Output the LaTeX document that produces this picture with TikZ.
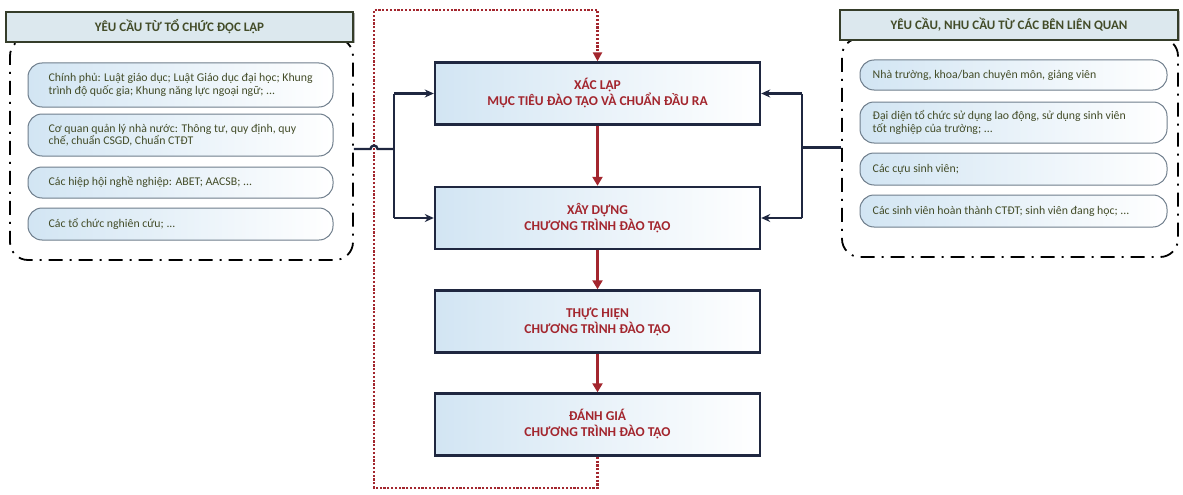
\documentclass[tikz,border=0pt]{standalone}
\usepackage{fontspec}
\setmainfont{Carlito}
\usetikzlibrary{arrows.meta,shadows}
\definecolor{navy}{HTML}{1F2740}
\definecolor{dred}{HTML}{A3262E}
\definecolor{olive}{HTML}{434C28}
\definecolor{ltblue}{HTML}{D2E5F3}
\definecolor{titlefill}{HTML}{DCE8EE}
\definecolor{itemedge}{HTML}{6F7E8C}
\definecolor{titleedge}{HTML}{353D2A}
\begin{document}
\begin{tikzpicture}[x=1pt,y=-1pt,
  mainbox/.style={draw=navy, line width=2.4pt, minimum width=325pt, minimum height=62pt,
    left color=ltblue, right color=white, align=center, inner sep=0pt,
    font=\fontsize{13.5}{16}\selectfont\bfseries, text=dred},
  titlebox/.style={draw=titleedge, line width=2.4pt, fill=titlefill, minimum height=30pt,
    inner sep=0pt, font=\fontsize{13}{15}\selectfont\bfseries, text=olive,
    drop shadow={shadow xshift=1.5pt, shadow yshift=-1.5pt, fill=black!60}},
  frame/.style={draw=black, line width=1.8pt, rounded corners=18pt,
    dash pattern=on 14pt off 7pt on 2pt off 7pt, inner sep=0pt},
  itembox/.style={draw=itemedge, line width=1pt, rounded corners=14pt,
    left color=ltblue, right color=white, inner sep=0pt},
  itemtext/.style={anchor=west, align=left, inner sep=0pt,
    font=\fontsize{11.8}{12.5}\selectfont, text=olive},
  conn/.style={draw=navy, line width=2.3pt},
  connarrow/.style={conn, -{Stealth[length=9pt,width=8pt]}},
  redarrow/.style={draw=dred, line width=2.5pt, -{Triangle[length=9pt,width=10pt]}},
  loopline/.style={draw=dred, line width=2.4pt, dash pattern=on 2.2pt off 1.6pt,
    -{Triangle[length=9pt,width=9pt]}}
]
\useasboundingbox (0,0) rectangle (1183,495);

% ---------- left group ----------
\node[frame, minimum width=343pt, minimum height=222pt] (lf) at (181.5,149) {};
\node[titlebox, minimum width=347pt] (ltitle) at (179.5,27) {YÊU CẦU TỪ TỔ CHỨC ĐỘC LẬP};
\node[itembox, minimum width=305pt, minimum height=44pt,
  label={[itemtext, xshift=21pt]west:Chính phủ: Luật giáo dục; Luật Giáo dục đại học; Khung\\trình độ quốc gia; Khung năng lực ngoại ngữ; ...}] (l1) at (180.5,85) {};
\node[itembox, minimum width=305pt, minimum height=42pt,
  label={[itemtext, xshift=21pt]west:Cơ quan quản lý nhà nước: Thông tư, quy định, quy\\chế, chuẩn CSGD, Chuẩn CTĐT}] (l2) at (180.5,135) {};
\node[itembox, minimum width=305pt, minimum height=31pt,
  label={[itemtext, xshift=21pt]west:Các hiệp hội nghề nghiệp: ABET; AACSB; ...}] (l3) at (180.5,182.5) {};
\node[itembox, minimum width=305pt, minimum height=32pt,
  label={[itemtext, xshift=21pt]west:Các tổ chức nghiên cứu; ...}] (l4) at (180.5,224) {};

% ---------- right group ----------
\node[frame, minimum width=336pt, minimum height=219pt] (rf) at (1010,147.5) {};
\node[titlebox, minimum width=338pt] (rtitle) at (1009,25) {YÊU CẦU, NHU CẦU TỪ CÁC BÊN LIÊN QUAN};
\node[itembox, minimum width=307pt, minimum height=30pt,
  label={[itemtext, xshift=13pt]west:Nhà trường, khoa/ban chuyên môn, giảng viên}] (r1) at (1013.5,75) {};
\node[itembox, minimum width=307pt, minimum height=41pt,
  label={[itemtext, xshift=13pt]west:Đại diện tổ chức sử dụng lao động, sử dụng sinh viên\\tốt nghiệp của trường; ...}] (r2) at (1013.5,122.5) {};
\node[itembox, minimum width=307pt, minimum height=32pt,
  label={[itemtext, xshift=13pt]west:Các cựu sinh viên;}] (r3) at (1013.5,169) {};
\node[itembox, minimum width=307pt, minimum height=32pt,
  label={[itemtext, xshift=13pt]west:Các sinh viên hoàn thành CTĐT; sinh viên đang học; ...}] (r4) at (1013.5,211) {};

% ---------- central process ----------
\node[mainbox] (b1) at (597.5,93.5) {XÁC LẬP\\MỤC TIÊU ĐÀO TẠO VÀ CHUẨN ĐẦU RA};
\node[mainbox] (b2) at (597.5,218) {XÂY DỰNG\\CHƯƠNG TRÌNH ĐÀO TẠO};
\node[mainbox] (b3) at (597.5,321.5) {THỰC HIỆN\\CHƯƠNG TRÌNH ĐÀO TẠO};
\node[mainbox] (b4) at (597.5,424.5) {ĐÁNH GIÁ\\CHƯƠNG TRÌNH ĐÀO TẠO};

\draw[redarrow] (b1.south) -- (b2.north);
\draw[redarrow] (b2.south) -- (b3.north);
\draw[redarrow] (b3.south) -- (b4.north);

% ---------- feedback loop (dotted) ----------
\coordinate (lb) at (374,488);
\coordinate (lt) at (374,10);
\draw[loopline] (b4.south) |- (lb) -- (lt) -| (b1.north);

% ---------- left connector ----------
\coordinate (lj) at (394,149);
\coordinate (hopa) at (370.5,149);
\draw[conn] (lf.east) -- (hopa) arc (180:360:3.5) -- (lj);
\draw[conn] (lj |- b1.west) -- (lj |- b2.west);
\draw[connarrow] (lj |- b1.west) -- (b1.west);
\draw[connarrow] (lj |- b2.west) -- (b2.west);

% ---------- right connector ----------
\coordinate (rj) at (802,147.5);
\draw[conn] (rf.west) -- (rj);
\draw[conn] (rj |- b1.east) -- (rj |- b2.east);
\draw[connarrow] (rj |- b1.east) -- (b1.east);
\draw[connarrow] (rj |- b2.east) -- (b2.east);
\end{tikzpicture}
\end{document}
